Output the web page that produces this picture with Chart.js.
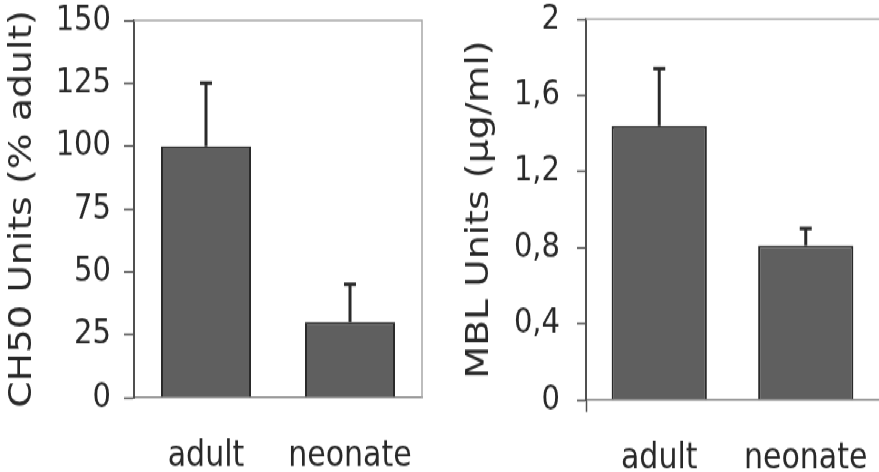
<!DOCTYPE html>
<html>
<head>
<meta charset="utf-8">
<script src="https://cdn.jsdelivr.net/npm/chart.js@4"></script>
<style>
  html, body { margin: 0; padding: 0; background: #fff; }
  body { width: 879px; height: 472px; overflow: hidden; }
  /* the reference is stretched vertically, so draw at 393px and stretch */
  #stage { position: relative; width: 879px; height: 393px; transform: scaleY(1.201); transform-origin: 0 0; }
  #ch50-wrap { position: absolute; left: 0; top: 0; width: 440px; height: 393px; }
  #mbl-wrap { position: absolute; left: 440px; top: 0; width: 439px; height: 393px; }
</style>
</head>
<body>
<div id="stage">
  <div id="ch50-wrap"><canvas id="ch50" width="440" height="393"></canvas></div>
  <div id="mbl-wrap"><canvas id="mbl" width="439" height="393"></canvas></div>
</div>
<script>
// Data
const categories = ["adult", "neonate"];
const ch50Values = [100, 30];
const ch50Errors = [25, 15];
const ch50TickLabels = ["0", "25", "50", "75", "100", "125", "150"];
const mblValues = [1.44, 0.81];
const mblErrors = [0.30, 0.09];
const mblTickLabels = ["0", "0,4", "0,8", "1,2", "1,6", "2"];

const FONT = "'DejaVu Sans', Verdana, sans-serif";
const TEXT = "#282828";
const AXIS = "#505050";

// Error bars (upper only)
const errorBarsPlugin = {
    id: "errorBars",
    afterDatasetsDraw(chart, args, opts) {
        const { ctx } = chart;
        const y = chart.scales.y;
        const values = chart.data.datasets[0].data;
        const meta = chart.getDatasetMeta(0);
        ctx.save();
        ctx.strokeStyle = opts.color;
        ctx.lineWidth = opts.width;
        meta.data.forEach((bar, i) => {
            const base = y.getPixelForValue(values[i]);
            const top = y.getPixelForValue(values[i] + opts.errors[i]);
            ctx.beginPath();
            ctx.moveTo(bar.x, base);
            ctx.lineTo(bar.x, top);
            ctx.moveTo(bar.x - opts.cap, top);
            ctx.lineTo(bar.x + opts.cap, top);
            ctx.stroke();
        });
        ctx.restore();
    }
};

// Light frame on top (and right)
const framePlugin = {
    id: "frame",
    beforeDatasetsDraw(chart, args, opts) {
        const { ctx, chartArea: a } = chart;
        ctx.save();
        ctx.strokeStyle = opts.color;
        ctx.lineWidth = opts.width;
        ctx.beginPath();
        ctx.moveTo(a.left, a.top);
        ctx.lineTo(opts.right ? a.right : chart.width, a.top);
        if (opts.right) ctx.lineTo(a.right, a.bottom);
        ctx.stroke();
        ctx.restore();
    }
};

function makeChart(id, cfg) {
    const ctx = document.getElementById(id).getContext("2d");
    return new Chart(ctx, {
        type: "bar",
        data: {
            labels: categories,
            datasets: [{
                data: cfg.values,
                backgroundColor: "#5f5f5f",
                borderColor: "#2a2a2a",
                borderWidth: 2,
                barPercentage: cfg.barPct,
                categoryPercentage: 1
            }]
        },
        options: {
            responsive: false,
            animation: false,
            devicePixelRatio: 1,
            layout: { padding: { top: cfg.padTop, right: cfg.padRight, left: 0, bottom: 0 } },
            plugins: {
                legend: { display: false },
                tooltip: { enabled: false },
                errorBars: { errors: cfg.errors, color: "#2a2a2a", width: 3, cap: 6 },
                frame: { color: "#a8a8a8", width: 1.5, right: cfg.frameRight }
            },
            scales: {
                x: {
                    afterFit: s => {
                        s.height = cfg.xHeight;
                        s.paddingLeft = 0;
                        s.paddingRight = 0;
                    },
                    grid: cfg.xGrid,
                    border: { display: true, color: "#8c8c8c", width: 1.5 },
                    ticks: {
                        color: TEXT,
                        padding: cfg.xPad,
                        font: { family: FONT, size: 30 }
                    }
                },
                y: {
                    min: 0,
                    max: cfg.max,
                    afterFit: s => {
                        s.width = cfg.yWidth;
                        s.paddingTop = 0;
                        s.paddingBottom = 0;
                    },
                    grid: {
                        drawOnChartArea: false,
                        drawTicks: true,
                        tickLength: cfg.tickLen,
                        tickColor: AXIS,
                        tickWidth: 1.5
                    },
                    border: { display: true, color: AXIS, width: 2 },
                    ticks: {
                        stepSize: cfg.step,
                        color: TEXT,
                        padding: cfg.yPad,
                        font: { family: FONT, size: 29, lineHeight: 1 },
                        callback: (v, i) => cfg.tickLabels[i]
                    },
                    title: {
                        display: true,
                        text: cfg.title,
                        color: TEXT,
                        padding: { top: cfg.titlePad, bottom: 0 },
                        font: { family: FONT, size: 31.5, lineHeight: 1.2 }
                    }
                }
            }
        },
        plugins: [framePlugin, errorBarsPlugin]
    });
}

makeChart("ch50", {
    values: ch50Values,
    errors: ch50Errors,
    tickLabels: ch50TickLabels,
    max: 150,
    step: 25,
    title: "CH50 Units (% adult)",
    barPct: 0.625,
    padTop: 17,
    padRight: 18,
    xHeight: 62,
    yWidth: 134,
    tickLen: 10,
    yPad: 13,
    titlePad: 4,
    xPad: 23,
    frameRight: true,
    xGrid: { display: false }
});

makeChart("mbl", {
    values: mblValues,
    errors: mblErrors,
    tickLabels: mblTickLabels,
    max: 2,
    step: 0.4,
    title: "MBL Units (µg/ml)",
    barPct: 0.65,
    padTop: 16,
    padRight: 0,
    xHeight: 60,
    yWidth: 146,
    tickLen: 9,
    yPad: 17,
    titlePad: 21,
    xPad: 21,
    frameRight: false,
    xGrid: {
        offset: true,
        drawOnChartArea: false,
        drawTicks: true,
        tickLength: 10,
        tickWidth: 1.5,
        tickColor: c => (c.index === 0 ? AXIS : "rgba(0,0,0,0)")
    }
});
</script>
</body>
</html>
